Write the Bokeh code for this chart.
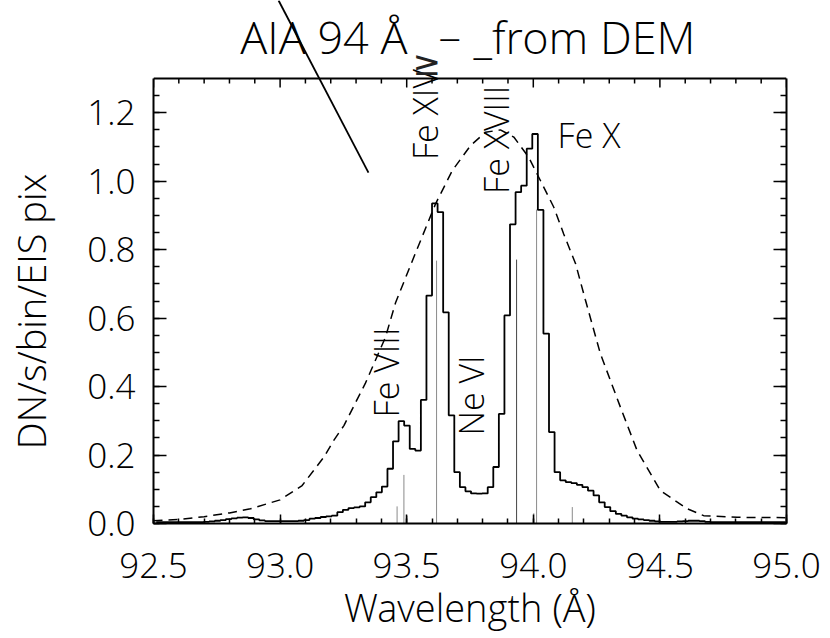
import numpy as np
from bokeh.plotting import figure
from bokeh.models import (SingleIntervalTicker, LinearAxis, PrintfTickFormatter,
                          CustomJSTickFormatter, Label, Range1d, ColumnDataSource)
from bokeh.embed import file_html
from bokeh.resources import INLINE

# ---------------- data ----------------
# EIS bin centres (Angstrom)
bin_wl = [
    92.511, 92.533, 92.555, 92.577, 92.599, 92.621, 92.643, 92.665, 92.687, 92.709,
    92.731, 92.753, 92.775, 92.797, 92.819, 92.841, 92.863, 92.885, 92.907, 92.929,
    92.951, 92.973, 92.995, 93.017, 93.039, 93.061, 93.083, 93.105, 93.127, 93.149,
    93.171, 93.193, 93.215, 93.237, 93.259, 93.281, 93.303, 93.325, 93.347, 93.369,
    93.391, 93.413, 93.435, 93.457, 93.479, 93.501, 93.523, 93.545, 93.567, 93.589,
    93.611, 93.633, 93.655, 93.677, 93.699, 93.721, 93.743, 93.765, 93.787, 93.809,
    93.831, 93.853, 93.875, 93.897, 93.919, 93.941, 93.963, 93.985, 94.007, 94.029,
    94.051, 94.073, 94.095, 94.117, 94.139, 94.161, 94.183, 94.205, 94.227, 94.249,
    94.271, 94.293, 94.315, 94.337, 94.359, 94.381, 94.403, 94.425, 94.447, 94.469,
    94.491, 94.513, 94.535, 94.557, 94.579, 94.601, 94.623, 94.645, 94.667, 94.689,
    94.711, 94.733, 94.755, 94.777, 94.799, 94.821, 94.843, 94.865, 94.887, 94.909,
    94.931, 94.953, 94.975, 94.997,
]
# synthetic AIA 94 signal per EIS bin (DN/s/bin/EIS pix)
bin_dn = [
    0.004, 0.004, 0.004, 0.004, 0.004, 0.004, 0.004, 0.004, 0.004, 0.005,
    0.006, 0.008, 0.010, 0.013, 0.015, 0.017, 0.018, 0.016, 0.012, 0.009,
    0.007, 0.007, 0.007, 0.007, 0.007, 0.007, 0.008, 0.010, 0.014, 0.016,
    0.019, 0.021, 0.023, 0.033, 0.040, 0.045, 0.047, 0.050, 0.062, 0.077,
    0.091, 0.108, 0.160, 0.240, 0.299, 0.286, 0.218, 0.213, 0.361, 0.666,
    0.935, 0.910, 0.617, 0.316, 0.150, 0.106, 0.094, 0.088, 0.087, 0.088,
    0.106, 0.165, 0.320, 0.608, 0.874, 0.968, 0.987, 1.095, 1.138, 0.916,
    0.555, 0.267, 0.150, 0.126, 0.121, 0.118, 0.113, 0.106, 0.096, 0.082,
    0.062, 0.048, 0.036, 0.028, 0.023, 0.018, 0.014, 0.012, 0.010, 0.008,
    0.006, 0.005, 0.005, 0.005, 0.006, 0.007, 0.008, 0.008, 0.007, 0.005,
    0.004, 0.004, 0.004, 0.004, 0.004, 0.004, 0.004, 0.004, 0.004, 0.004,
    0.004, 0.004, 0.004, 0.004,
]
# AIA 94 response curve (dashed)
resp_wl = [92.500, 92.600, 92.700, 92.800, 92.883, 93.000, 93.087, 93.173, 93.212,
           93.252, 93.337, 93.416, 93.456, 93.528, 93.614, 93.680, 93.752, 93.811,
           93.870, 93.923, 93.982, 94.028, 94.081, 94.120, 94.167, 94.205, 94.265,
           94.344, 94.410, 94.502, 94.608, 94.673, 94.805, 95.000]
resp_val = [0.008, 0.012, 0.020, 0.031, 0.043, 0.069, 0.111, 0.194, 0.243,
            0.286, 0.410, 0.544, 0.645, 0.778, 0.934, 1.031, 1.104, 1.143,
            1.150, 1.129, 1.070, 1.002, 0.924, 0.846, 0.759, 0.655, 0.496,
            0.340, 0.213, 0.096, 0.043, 0.023, 0.018, 0.017]
# individual spectral lines (sticks)
line_wl = [93.462, 93.489, 93.502, 93.618, 93.934, 94.002, 94.013, 94.154]
line_h = [0.050, 0.142, 0.023, 0.768, 0.771, 0.030, 0.917, 0.048]
line_col = ["#8a8a8a", "#8a8a8a", "#8a8a8a", "#8a8a8a", "#444444", "#8a8a8a", "#8a8a8a", "#8a8a8a"]
# ion labels
ion_text = ["Fe VIII", "Fe XIV", "Ne VI", "Fe XVIII", "Fe X"]
ion_x = [93.418, 93.572, 93.752, 93.851, 94.096]
ion_y = [0.310, 1.062, 0.257, 0.963, 1.134]
ion_vertical = [True, True, True, True, False]
# axis ticks
x_major = [92.5, 93.0, 93.5, 94.0, 94.5, 95.0]
Y_TOP = 1.3
# stray pointer line
pointer_x = [92.994, 93.349]
pointer_y = [1.528, 1.025]

FONT = "Open Sans Light"
PX_PER_Y = 342.3  # pixels per data unit in y (used to size the top-edge ticks)
NBSP = "\u00a0"

p = figure(width=830, height=638, x_range=Range1d(92.5, 95.0), y_range=Range1d(0, 1.528),
           output_backend="svg", toolbar_location=None,
           min_border_left=153, min_border_right=44, min_border_top=0, min_border_bottom=115,
           x_axis_label="Wavelength (Å)",
           y_axis_label="DN/s/bin/EIS pix" + NBSP * 10)
p.grid.visible = False
p.outline_line_color = None
p.background_fill_color = "white"
p.border_fill_color = "white"

xt = SingleIntervalTicker(interval=0.5, num_minor_ticks=5)
yt = SingleIntervalTicker(interval=0.2, num_minor_ticks=4)
blank = CustomJSTickFormatter(code="return ''")

def style(ax, major, minor):
    ax.axis_line_width = 2
    ax.axis_line_color = "black"
    ax.major_tick_in = major
    ax.major_tick_out = 0
    ax.minor_tick_in = minor
    ax.minor_tick_out = 0
    ax.major_tick_line_width = 1.5
    ax.minor_tick_line_width = 1.5
    ax.major_tick_line_color = "black"
    ax.minor_tick_line_color = "black"
    ax.major_label_text_font = FONT
    ax.major_label_text_font_size = "35px"
    ax.major_label_text_color = "black"
    ax.axis_label_text_font = FONT
    ax.axis_label_text_font_size = "38px"
    ax.axis_label_text_font_style = "normal"
    ax.axis_label_text_color = "black"

xa = p.xaxis[0]
xa.ticker = xt
xa.formatter = PrintfTickFormatter(format="%.1f")
style(xa, 9, 5)
xa.major_label_standoff = 29
xa.axis_label_standoff = 0

ya = p.yaxis[0]
ya.ticker = yt
ya.formatter = PrintfTickFormatter(format="%.1f")
ya.bounds = (0, Y_TOP)
style(ya, 13, 6)
ya.major_label_standoff = 18
ya.axis_label_standoff = 27

right = LinearAxis(ticker=yt, formatter=blank, bounds=(0, Y_TOP))
style(right, 13, 6)
p.add_layout(right, "right")

# top edge of the box with inward ticks at the x-axis tick positions
x_minor = [m + 0.1 * j for m in x_major[:-1] for j in range(1, 5)]
p.segment(x0=[x_major[0]], y0=[Y_TOP], x1=[x_major[-1]], y1=[Y_TOP],
          line_color="black", line_width=2)
p.segment(x0=x_major, y0=[Y_TOP] * len(x_major), x1=x_major,
          y1=[Y_TOP - 9 / PX_PER_Y] * len(x_major), line_color="black", line_width=1.5)
p.segment(x0=x_minor, y0=[Y_TOP] * len(x_minor), x1=x_minor,
          y1=[Y_TOP - 5 / PX_PER_Y] * len(x_minor), line_color="black", line_width=1.5)

# spectral line sticks
src_lines = ColumnDataSource(dict(x=line_wl, h=line_h, c=line_col, z=[0] * len(line_wl)))
p.segment(x0="x", y0="z", x1="x", y1="h", source=src_lines, line_color="c", line_width=1)

# response (dashed)
p.line(resp_wl, resp_val, line_color="black", line_width=1.5, line_dash="9 6")

# histogram
p.step(bin_wl, bin_dn, mode="center", line_color="black", line_width=1.8)

# ion labels
for t, x, y, v in zip(ion_text, ion_x, ion_y, ion_vertical):
    p.add_layout(Label(x=x, y=y, text=t, angle=(np.pi / 2 if v else 0),
                       text_font=FONT, text_font_size="34px", text_color="black",
                       text_align="left", text_baseline="middle"))

# title pieces
p.add_layout(Label(x=93.503, y=1.422, text="AIA 94 Å", text_font=FONT, text_font_size="45px",
                   text_align="right", text_baseline="middle", text_color="black"))
p.add_layout(Label(x=93.523, y=1.345, text="≥", text_font="DejaVu Sans", text_font_size="34px",
                   text_align="left", text_baseline="middle", text_color="#222222"))
p.add_layout(Label(x=93.626, y=1.428, text="–", text_font=FONT, text_font_size="45px",
                   text_align="left", text_baseline="middle", text_color="black"))
p.add_layout(Label(x=93.764, y=1.422, text="_from DEM", text_font=FONT, text_font_size="45px",
                   text_align="left", text_baseline="middle", text_color="black"))

# pointer line
p.segment(x0=[pointer_x[0]], y0=[pointer_y[0]], x1=[pointer_x[1]], y1=[pointer_y[1]],
          line_color="black", line_width=1.8)

open("out.html", "w").write(file_html(p, INLINE))
